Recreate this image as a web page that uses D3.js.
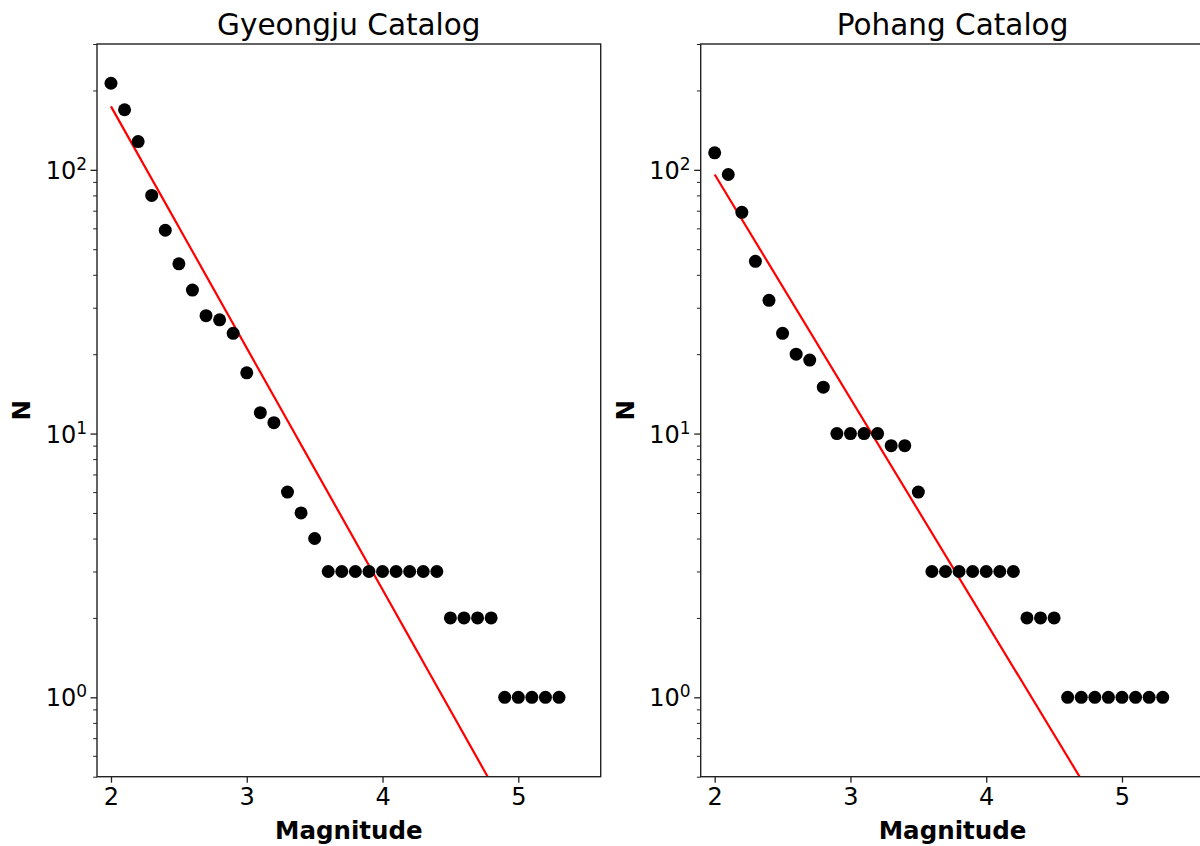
<!DOCTYPE html>
<html>
<head>
<meta charset="utf-8">
<script src="https://cdn.jsdelivr.net/npm/d3@7"></script>
<style>
  body { margin: 0; background: #fff; }
  svg { display: block; font-family: "DejaVu Sans", sans-serif; }
</style>
</head>
<body>
<div class="canvas"></div>
<script>
// magnitude bins (same for both catalogs)
const magnitudes = [2.0, 2.1, 2.2, 2.3, 2.4, 2.5, 2.6, 2.7, 2.8, 2.9, 3.0, 3.1, 3.2, 3.3, 3.4, 3.5,
  3.6, 3.7, 3.8, 3.9, 4.0, 4.1, 4.2, 4.3, 4.4, 4.5, 4.6, 4.7, 4.8, 4.9, 5.0, 5.1, 5.2, 5.3];

const gyeongjuN = [213, 169, 128, 80, 59, 44, 35, 28, 27, 24, 17, 12, 11, 6, 5, 4,
  3, 3, 3, 3, 3, 3, 3, 3, 3, 2, 2, 2, 2, 1, 1, 1, 1, 1];
const pohangN = [116, 96, 69, 45, 32, 24, 20, 19, 15, 10, 10, 10, 10, 9, 9, 6,
  3, 3, 3, 3, 3, 3, 3, 2, 2, 2, 1, 1, 1, 1, 1, 1, 1, 1];

// fitted G-R line endpoints (magnitude, N)
const fitM = [2.0, 5.3];
const gyeongjuFit = [174, 0.165];
const pohangFit = [96, 0.151];

const titles = ["Gyeongju Catalog", "Pohang Catalog"];
const xTicks = [2, 3, 4, 5];
const yMajor = [1, 10, 100];
const yMinor = [0.5, 0.6, 0.7, 0.8, 0.9, 2, 3, 4, 5, 6, 7, 8, 9, 20, 30, 40, 50, 60, 70, 80, 90, 200, 300];

const width = 1200, height = 846;
const axTop = 44, axBottom = 776.7, axW = 503.7;
const lefts = [97, 700.7];

const svg = d3.select(".canvas").append("svg")
  .attr("width", width)
  .attr("height", height);

const panels = [
  { title: titles[0], counts: gyeongjuN, fit: gyeongjuFit },
  { title: titles[1], counts: pohangN, fit: pohangFit }
];

panels.forEach((p, i) => {
  const left = lefts[i];
  const x = d3.scaleLinear().domain([1.897, 5.607]).range([left, left + axW]);
  const y = d3.scaleLog().domain([0.5, 300]).range([axBottom, axTop]);

  const g = svg.append("g");

  const clipId = "clip" + i;
  g.append("clipPath").attr("id", clipId)
    .append("rect")
    .attr("x", left).attr("y", axTop)
    .attr("width", axW).attr("height", axBottom - axTop);

  // fit line
  g.append("path")
    .datum(fitM.map((m, k) => [m, p.fit[k]]))
    .attr("clip-path", `url(#${clipId})`)
    .attr("fill", "none")
    .attr("stroke", "#ff0000")
    .attr("stroke-width", 2.2)
    .attr("d", d3.line().x(d => x(d[0])).y(d => y(d[1])));

  // points
  g.append("g")
    .attr("clip-path", `url(#${clipId})`)
    .selectAll("circle")
    .data(magnitudes.map((m, k) => [m, p.counts[k]]))
    .join("circle")
      .attr("cx", d => x(d[0]))
      .attr("cy", d => y(d[1]))
      .attr("r", 6.5)
      .attr("fill", "#000");

  // x axis
  const xa = g.append("g")
    .attr("transform", `translate(0,${axBottom})`)
    .call(d3.axisBottom(x).tickValues(xTicks).tickSize(6).tickPadding(5).tickFormat(d3.format("d")));
  xa.select(".domain").remove();
  xa.selectAll(".tick line").attr("stroke", "#222").attr("stroke-width", 1.3);
  xa.selectAll(".tick text").attr("font-size", 24).attr("fill", "#000")
    .attr("font-family", "DejaVu Sans");

  // y minor ticks
  const ym = g.append("g")
    .attr("transform", `translate(${left},0)`)
    .call(d3.axisLeft(y).tickValues(yMinor).tickSize(3.8).tickFormat(""));
  ym.select(".domain").remove();
  ym.selectAll(".tick line").attr("stroke", "#222").attr("stroke-width", 1);

  // y major ticks
  const ya = g.append("g")
    .attr("transform", `translate(${left},0)`)
    .call(d3.axisLeft(y).tickValues(yMajor).tickSize(6.5).tickPadding(5).tickFormat(""));
  ya.select(".domain").remove();
  ya.selectAll(".tick line").attr("stroke", "#222").attr("stroke-width", 1.3);
  ya.selectAll(".tick text").remove();
  ya.selectAll(".tick").append("text")
    .attr("x", -10)
    .attr("dy", "0.36em")
    .attr("text-anchor", "end")
    .attr("fill", "#000")
    .attr("font-family", "DejaVu Sans")
    .attr("font-size", 24)
    .each(function(d) {
      const t = d3.select(this);
      t.append("tspan").text("10");
      t.append("tspan").attr("font-size", 17).attr("dy", -9).text(Math.round(Math.log10(d)));
    });

  // spines
  g.append("rect")
    .attr("x", left).attr("y", axTop)
    .attr("width", axW).attr("height", axBottom - axTop)
    .attr("fill", "none")
    .attr("stroke", "#222")
    .attr("stroke-width", 1.4);

  // title
  g.append("text")
    .attr("x", left + axW / 2)
    .attr("y", 35)
    .attr("text-anchor", "middle")
    .attr("font-size", 29.5)
    .attr("fill", "#000")
    .text(p.title);

  // x label
  g.append("text")
    .attr("x", left + axW / 2)
    .attr("y", 839)
    .attr("text-anchor", "middle")
    .attr("font-size", 24.5)
    .attr("font-weight", "bold")
    .attr("fill", "#000")
    .text("Magnitude");

  // y label
  g.append("text")
    .attr("transform", `translate(${left - 67},${(axTop + axBottom) / 2}) rotate(-90)`)
    .attr("text-anchor", "middle")
    .attr("font-size", 24.5)
    .attr("font-weight", "bold")
    .attr("fill", "#000")
    .text("N");
});
</script>
</body>
</html>
